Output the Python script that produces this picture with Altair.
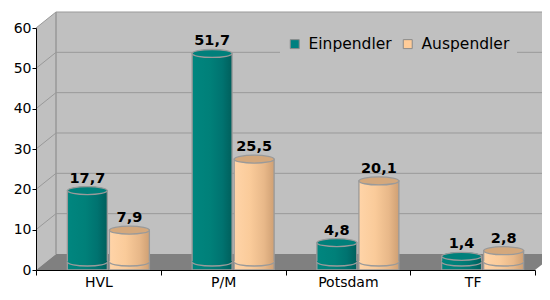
import altair as alt
import pandas as pd

# ---- data -------------------------------------------------------------
categories = ["HVL", "P/M", "Potsdam", "TF"]
series = ["Einpendler", "Auspendler"]
einpendler = [17.7, 51.7, 4.8, 1.4]
auspendler = [7.9, 25.5, 20.1, 2.8]
y_ticks = [0, 10, 20, 30, 40, 50, 60]
legend_colors = ["#008080", "#FFCC99"]

# ---- geometry / style ---------------------------------------------------
W, H = 499, 242          # front plane of the plot
DX, DY = 20, 16          # depth of the pseudo-3D box
BX, BY = DX / 2, DY / 2  # bars stand in the middle of the depth
STEP = W / len(categories)
PAIR = 82
PAD_IN = 0.05
SUB_BW = PAIR / (2 - PAD_IN)
BW = SUB_BW * (1 - PAD_IN)
FONT = "DejaVu Sans"

rows = []
for c, e, a in zip(categories, einpendler, auspendler):
    rows.append({"cat": c, "series": "Einpendler", "value": e})
    rows.append({"cat": c, "series": "Auspendler", "value": a})
df = pd.DataFrame(rows)
df["label"] = df["value"].map(lambda v: f"{v:.1f}".replace(".", ","))

grid_df_upper = pd.DataFrame({"v": y_ticks[1:]})

xscale = alt.Scale(domain=categories, paddingInner=0, paddingOuter=0)
xoff_scale = alt.Scale(domain=series,
                       range=[STEP / 2 + BX - PAIR / 2, STEP / 2 + BX + PAIR / 2],
                       paddingInner=PAD_IN, paddingOuter=0)
yscale = alt.Scale(domain=[0, 60], nice=False, zero=True)

xaxis = alt.Axis(title=None, labelAngle=0, tickBand="extent", tickSize=5,
                 labelPadding=0, zindex=1, domainColor="black", tickColor="black")
yaxis = alt.Axis(title=None, values=y_ticks, tickSize=4, labelPadding=1, zindex=1,
                 domainColor="black", tickColor="black", grid=False)

X = alt.X("cat:N", scale=xscale, axis=xaxis, sort=categories)
XO = alt.XOffset("series:N", scale=xoff_scale, sort=series)
Y = alt.Y("value:Q", scale=yscale, axis=yaxis, stack=None, title=None)

one = pd.DataFrame({"a": [0]})

# ---- box decoration -------------------------------------------------------
back_wall = alt.Chart(one).mark_rect(fill="#C0C0C0").encode(
    x=alt.value(DX), x2=alt.value(W + DX + 40),
    y=alt.value(-DY), y2=alt.value(H - DY))

left_wall_df = pd.DataFrame({"px": [0, DX], "py": [0, -DY], "py2": [H, H - DY]})
left_wall = alt.Chart(left_wall_df).mark_area(fill="#C0C0C0").encode(
    x=alt.X("px:Q", scale=None, axis=None),
    y=alt.Y("py:Q", scale=None, axis=None),
    y2="py2:Q")

back_grid = alt.Chart(grid_df_upper).mark_rule(color="#999999", strokeWidth=1, yOffset=-DY).encode(
    y=alt.Y("v:Q", scale=yscale, axis=yaxis, title=None),
    x=alt.value(DX), x2=alt.value(W + DX + 40))

side_grid = alt.Chart(grid_df_upper).mark_rule(color="#999999", strokeWidth=1, y2Offset=-DY).encode(
    y=alt.Y("v:Q", scale=yscale, axis=yaxis, title=None),
    y2="v:Q",
    x=alt.value(0), x2=alt.value(DX))

wall_edge = alt.Chart(one).mark_rule(color="#999999", strokeWidth=1.5).encode(
    x=alt.value(DX), y=alt.value(-DY), y2=alt.value(H - DY))

floor_df = pd.DataFrame({"px": [0, DX, W, W + DX],
                         "py": [H, H - DY, H - DY, H - DY],
                         "py2": [H, H, H, H - DY]})
floor = alt.Chart(floor_df).mark_area(fill="#808080").encode(
    x=alt.X("px:Q", scale=None, axis=None),
    y=alt.Y("py:Q", scale=None, axis=None),
    y2="py2:Q")

# ---- legend (invisible marks, visible legend) -----------------------------
legend_layer = alt.Chart(df).mark_square(opacity=0).encode(
    x=X, xOffset=XO, y=Y,
    color=alt.Color("series:N", sort=series,
                    scale=alt.Scale(domain=series, range=legend_colors),
                    legend=alt.Legend(title=None, orient="none", legendX=244, legendY=1,
                                      direction="horizontal", fillColor="#C0C0C0",
                                      padding=7, symbolType="square", symbolSize=80,
                                      symbolStrokeColor="#8a8a8a", symbolStrokeWidth=1,
                                      symbolOpacity=1, labelFont=FONT, labelFontSize=15.5,
                                      labelColor="black", labelOffset=6, columnPadding=8)))

# ---- cylinders ------------------------------------------------------------
ELL = "M -1 0 A 1 0.2 0 1 0 1 0 A 1 0.2 0 1 0 -1 0 Z"
ARC = "M -1 0 A 1 0.2 0 0 0 1 0"


def grad(stops):
    return {"gradient": "linear", "x1": 0, "x2": 1, "y1": 0, "y2": 0,
            "stops": [{"offset": o, "color": c} for o, c in stops]}


body_fill = {
    "Einpendler": grad([(0, "#00867f"), (0.45, "#008079"), (0.75, "#007370"), (1, "#005f5c")]),
    "Auspendler": grad([(0, "#FFD4A8"), (0.4, "#FACB9A"), (0.75, "#E8B889"), (1, "#CFA074")]),
}
top_fill = {"Einpendler": "#00807b", "Auspendler": "#D4A87C"}
OUT = "#9a9a9a"

cyl_layers = []
for s in series:
    base = alt.Chart(df).transform_filter(alt.datum.series == s)
    body = base.mark_bar(fill=body_fill[s], stroke=OUT, strokeWidth=1.3,
                         yOffset=-BY, y2Offset=-BY).encode(x=X, xOffset=XO, y=Y)
    bottom_cover = base.transform_calculate(zero="0").mark_point(
        shape=ELL, filled=True, fill=body_fill[s], strokeWidth=0, opacity=1,
        size=BW * BW, yOffset=-BY).encode(
        x=X, xOffset=XO, y=alt.Y("zero:Q", scale=yscale, axis=yaxis, title=None))
    bottom_arc = base.transform_calculate(zero="0").mark_point(
        shape=ARC, filled=False, stroke=OUT, strokeWidth=1.3, opacity=1,
        size=BW * BW, yOffset=-BY).encode(
        x=X, xOffset=XO, y=alt.Y("zero:Q", scale=yscale, axis=yaxis, title=None))
    top = base.mark_point(shape=ELL, filled=True, fill=top_fill[s], stroke=OUT,
                          strokeWidth=1.3, opacity=1, size=BW * BW,
                          yOffset=-BY).encode(x=X, xOffset=XO, y=Y)
    cyl_layers += [body, bottom_cover, bottom_arc, top]

labels = alt.Chart(df).mark_text(font=FONT, fontWeight="bold", fontSize=14.5,
                                 color="black", baseline="alphabetic",
                                 dy=-(BY + 8)).encode(
    x=X, xOffset=XO, y=Y, text="label:N")

chart = alt.layer(
    back_wall, left_wall, back_grid, side_grid, wall_edge, floor,
    legend_layer, *cyl_layers, labels
).properties(
    width=W, height=H,
    autosize=alt.AutoSizeParams(type="none"),
    padding={"left": 28, "top": 20, "right": 7, "bottom": 22},
    background="white",
).configure_view(stroke=None).configure_axis(
    labelFont=FONT, labelFontSize=14, labelColor="black", grid=False
)

chart.save("out.html", embed_options={"renderer": "svg", "actions": False})
